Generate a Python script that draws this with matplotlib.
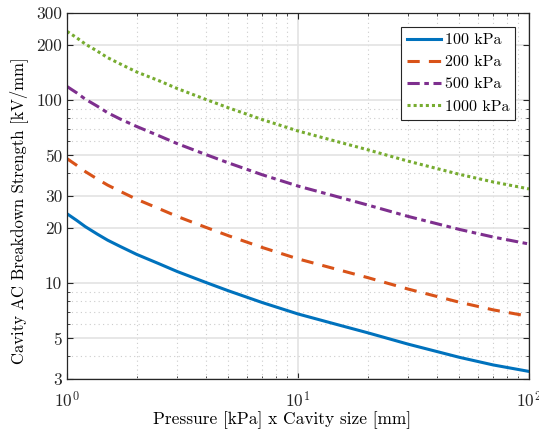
import matplotlib
matplotlib.use("Agg")
import matplotlib.pyplot as plt
from matplotlib.ticker import FixedLocator, LogLocator, NullFormatter

plt.rcParams['font.family'] = 'serif'
plt.rcParams['font.serif'] = ['cmr10']
plt.rcParams['mathtext.fontset'] = 'cm'
plt.rcParams['axes.formatter.use_mathtext'] = True

# values
x = [1, 1.1, 1.2, 1.35, 1.5, 1.7, 2, 2.5, 3, 4, 5, 7, 10, 15, 20, 30, 50, 70, 100]
e_100 = [24, 22.1, 20.4, 18.6, 17.2, 15.9, 14.4, 12.8, 11.6, 10.1, 9.1, 7.85, 6.8,
         5.92, 5.37, 4.65, 3.94, 3.58, 3.3]
e_200 = [48, 44.2, 40.8, 37.2, 34.4, 31.8, 28.8, 25.6, 23.2, 20.2, 18.2, 15.7, 13.6,
         11.85, 10.75, 9.3, 7.88, 7.16, 6.6]
e_500 = [119, 110, 101.5, 93, 85.5, 79, 72, 64, 58, 50.5, 45.5, 39.2, 34,
         29.6, 26.8, 23.2, 19.7, 17.9, 16.4]
e_1000 = [238, 220, 203, 186, 171, 158, 143, 128, 116, 101, 91, 78.5, 68,
          59.2, 53.7, 46.5, 39.4, 35.8, 32.8]
labels = ['100 kPa', '200 kPa', '500 kPa', '1000 kPa']
yticks = [3, 5, 10, 20, 30, 50, 100, 200, 300]

fig = plt.figure(figsize=(5.39, 4.32), dpi=100)
ax = fig.add_axes([0.1243, 0.1227, 0.8571, 0.8472])

ax.plot(x, e_100, '-', color='#0072BD', lw=2.2, label=labels[0])
ax.plot(x, e_200, '--', color='#D95319', lw=2.2, label=labels[1], dashes=(4, 3))
ax.plot(x, e_500, '-.', color='#7E2F8E', lw=2.2, label=labels[2], dashes=(4, 1.5, 1.5, 1.5))
ax.plot(x, e_1000, ':', color='#77AC30', lw=2.2, label=labels[3], dashes=(1, 1))

ax.set_xscale('log')
ax.set_yscale('log')
ax.set_xlim(1, 100)
ax.set_ylim(3, 300)

ax.yaxis.set_major_locator(FixedLocator(yticks))
ax.set_yticklabels([str(v) for v in yticks])
ax.yaxis.set_minor_locator(LogLocator(base=10, subs=range(2, 10), numticks=20))
ax.yaxis.set_minor_formatter(NullFormatter())
ax.xaxis.set_minor_locator(LogLocator(base=10, subs=range(2, 10), numticks=20))
ax.xaxis.set_minor_formatter(NullFormatter())

ax.grid(True, which='major', color='#e3e3e3', lw=1.2, ls='-')
ax.grid(True, which='minor', color='#cccccc', lw=0.8, ls=(0, (1, 3)))
ax.set_axisbelow(True)

ax.tick_params(which='both', direction='in', top=True, right=True, labelsize=12.5, colors='#262626')
ax.tick_params(which='major', length=4)
ax.tick_params(which='minor', length=2.5)
ax.tick_params(axis='x', pad=8)
for s in ax.spines.values():
    s.set_color('#262626')
    s.set_linewidth(0.9)

ax.set_xlabel('Pressure [kPa] x Cavity size [mm]', fontsize=12.5)
ax.set_ylabel('Cavity AC Breakdown Strength [kV/mm]', fontsize=12)
ax.xaxis.set_label_coords(0.465, -0.087)
ax.yaxis.set_label_coords(-0.085, 0.46)

leg = ax.legend(loc='upper right', fontsize=11.5, fancybox=False, edgecolor='#262626',
                framealpha=1, handlelength=2.1, borderaxespad=0.85, labelspacing=0.5,
                handletextpad=0.25, borderpad=0.4)
leg.get_frame().set_linewidth(0.8)

fig.savefig('out.png', dpi=100)
